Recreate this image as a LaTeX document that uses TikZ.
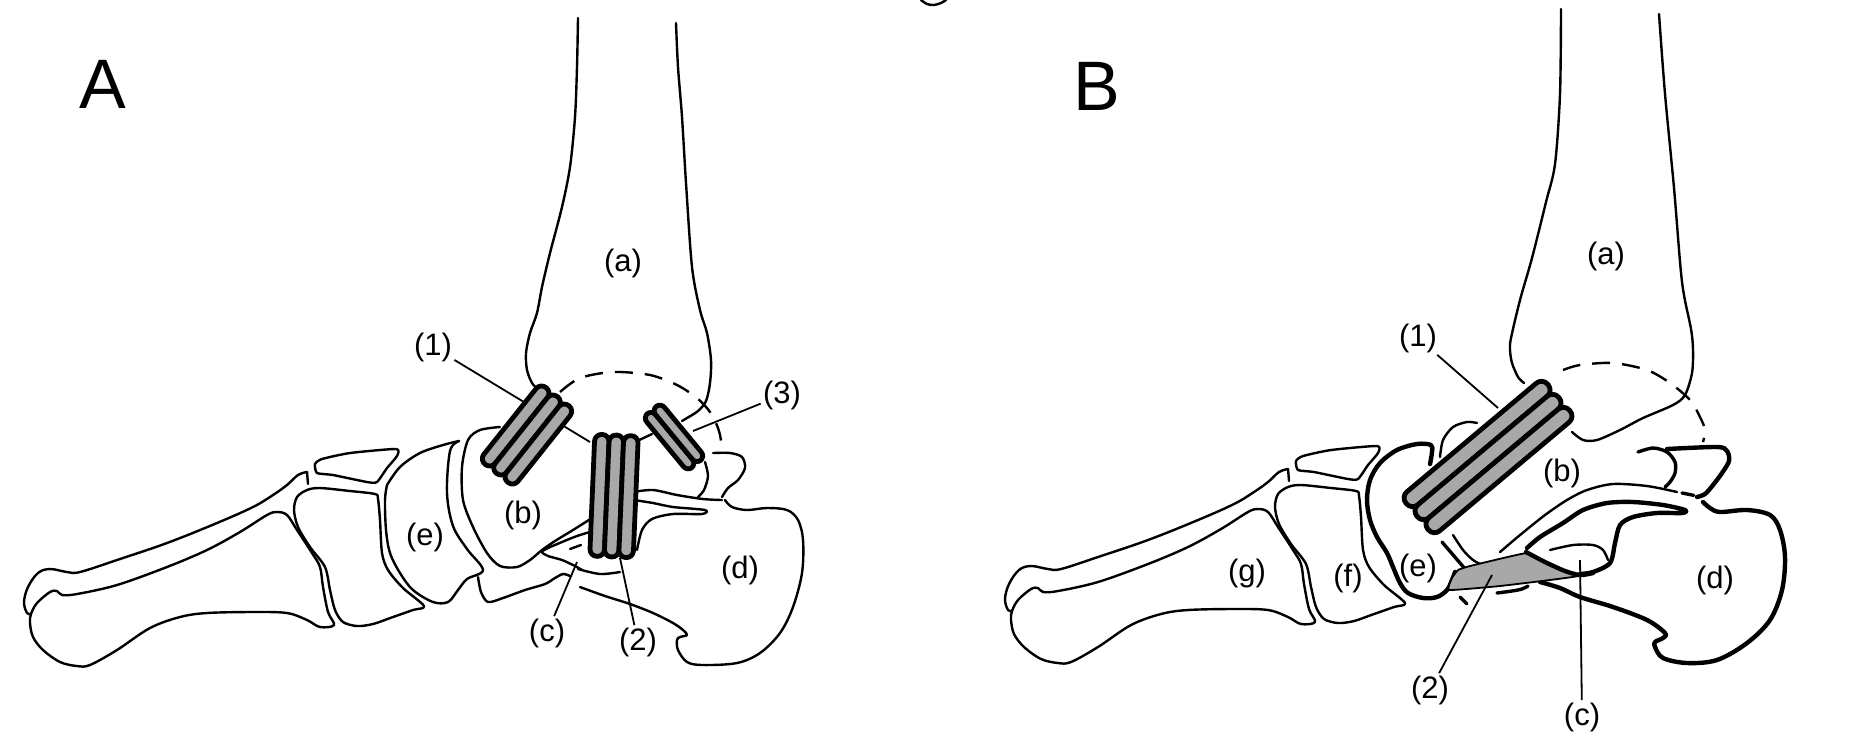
\documentclass[tikz,border=0pt]{standalone}
\usepackage{fontspec}
\setmainfont{Liberation Sans}
\definecolor{liggray}{HTML}{A8A8A8}
\tikzset{
 bone/.style={line width=1.2pt, line join=round, line cap=round},
 mbone/.style={line width=1.7pt, line join=round, line cap=round},
 bbone/.style={line width=2.2pt, line join=round, line cap=round},
 dsh/.style={line width=1.2pt, dash pattern=on 9pt off 6pt},
 lead/.style={line width=0.9pt},
 lbl/.style={font=\fontsize{15.5}{18}\selectfont, inner sep=1pt},
 big/.style={font=\fontsize{35}{40}\selectfont, inner sep=0pt},
 ligs/.style={fill=liggray, draw=black, line width=2.4pt, line join=round},
 wedgestyle/.style={fill=liggray, draw=black, line width=0.9pt, line join=round},
}
\newcommand{\ligbundle}[7]{%
 \begin{scope}[shift={(#1,#2)},rotate=#3]
  \foreach \k in {1,...,#5}{%
   \pgfmathsetmacro{\vlo}{(\k-1-(#5)/2)*(#6)}%
   \pgfmathsetmacro{\vhi}{\vlo+(#6)}%
   \draw[ligs, rounded corners=#7] (-#4/2,\vlo) rectangle (#4/2,\vhi);
  }
 \end{scope}}
\newcommand{\forefoot}{%
 \draw[bone] (308,484) -- (307,472);
 \draw[bone] plot[smooth, tension=0.6] coordinates {(307,472) (298,475) (287,485) (273,495) (253,507) (217,523) (167,543) (117,560) (80,572) (67,572) (50,569) (38,573) (28,587) (24,602) (27,613) (31,614)};
 \draw[bone] plot[smooth cycle, tension=0.55] coordinates {(31,614) (37,603) (50,592) (57,591) (62,595) (77,594) (117,585) (167,567) (207,550) (240,532) (267,515) (277,512) (287,515) (297,530) (312,553) (320,567) (323,587) (328,612) (334,625) (320,627) (307,620) (287,613) (253,612) (207,613) (180,617) (150,628) (117,650) (90,665) (77,666) (60,662) (43,650) (33,637) (30,623)};
 \draw[bone] plot[smooth cycle, tension=0.35] coordinates {(317,473) (315,464) (322,459) (350,453) (396,449) (397,456) (387,468) (377,482) (367,482) (333,475)};
 \draw[bone] plot[smooth cycle, tension=0.5] coordinates {(297,497) (307,490) (320,488) (350,491) (375,494) (378,499) (380,520) (382,553) (388,570) (403,588) (424,606) (413,610) (393,617) (373,624) (357,626) (343,622) (335,610) (330,590) (325,567) (310,547) (298,527) (294,510)};
}
\begin{document}
\begin{tikzpicture}[x=0.5pt,y=-0.5pt]
\useasboundingbox (0,0) rectangle (1856,736);
\draw[bone] plot[smooth] coordinates {(921,0) (927,4) (934,5) (941,3) (946,0)};

% ================= PANEL A =================
\node[big] (Alab) at (103,84) {A};
\draw[bone] plot[smooth] coordinates {(578,18) (577,67) (575,117) (570,167) (562,207) (550,253) (542,287) (537,313) (530,333) (526,353) (527,370) (532,383) (538,389)};
\draw[bone] plot[smooth] coordinates {(676,23) (678,67) (682,117) (686,183) (692,267) (700,310) (707,333) (711,360) (710,383) (706,401) (698,411) (687,418) (682,421)};
\draw[dsh] plot[smooth] coordinates {(560,392) (580,378) (613,372) (650,375) (677,385) (697,398) (710,412) (718,428) (721,442) (718,452)};
\forefoot
\draw[bone] plot[smooth, tension=0.55] coordinates {(387,485) (400,467) (420,453) (443,445) (459,441)};
\draw[bone] plot[smooth, tension=0.55] coordinates {(459,441) (450,451) (447,493) (453,526) (467,549) (483,570) (467,579) (458,590) (448,602) (433,602) (413,590) (400,573) (390,553) (386,530) (385,500) (387,485)};
\draw[bone] plot[smooth] coordinates {(500,427) (480,430) (468,440) (462,467) (463,500) (473,527) (487,553) (500,566) (517,567) (530,560) (542,550) (555,541) (573,530) (592,518)};
\draw[bone] plot[smooth, tension=0.5] coordinates {(593,531) (577,536) (562,542) (548,548) (542,552) (548,556) (562,560) (575,566) (582,570)};
\draw[bone] (570,549) -- (581,545);
\draw[bone] plot[smooth] coordinates {(578,569) (600,574) (620,572)};
\draw[bone] plot[smooth] coordinates {(478,577) (481,592) (488,602) (503,598) (525,590) (545,584) (555,578) (563,574) (570,576)};
\draw[bone] plot[smooth, tension=0.55] coordinates {(580,587) (605,596) (630,604) (653,613) (673,623) (683,630) (687,635) (680,637) (677,640) (678,650) (687,662) (703,665) (737,663) (760,653) (780,633) (793,607) (802,573) (803,540) (798,520) (787,510) (767,508) (747,510) (732,507) (725,500)};
\draw[bone] plot[smooth] coordinates {(713,453) (730,453) (742,457) (745,468) (738,480) (728,488) (722,497)};
\draw[bone] plot[smooth] coordinates {(705,462) (708,476) (704,490) (698,497)};
\draw[bone] plot[smooth] coordinates {(633,492) (653,490) (677,495) (703,499) (722,500)};
\draw[bone] plot[smooth, tension=0.5] coordinates {(634,500) (653,503) (673,507) (705,510) (702,514) (673,514) (652,519) (642,530) (637,550)};
\draw[bone] (635,442) -- (652,434);
\node[lbl] (Aa) at (623,263) {(a)};
\node[lbl] (Ab) at (523,515) {(b)};
\node[lbl] (Ae) at (425,537) {(e)};
\node[lbl] (Ad) at (740,570) {(d)};
\node[lbl] (Ac) at (547,633) {(c)};
\node[lbl] (A2) at (638,642) {(2)};
\node[lbl] (A1) at (433,347) {(1)};
\node[lbl] (A3) at (782,395) {(3)};
\coordinate (A1e) at (590,442);
\coordinate (A3e) at (693,431);
\coordinate (Ace) at (577,562);
\coordinate (A2e) at (620,558);
\draw[lead] (A1) -- (A1e);
\draw[lead] (A3) -- (A3e);
\draw[lead] (Ac) -- (Ace);
\draw[lead] (A2) -- (A2e);
\ligbundle{527}{435}{51.5}{98}{3}{14.5}{3.5pt}
\ligbundle{614}{496}{87.6}{122}{3}{14.5}{3.5pt}
\ligbundle{674}{437}{129.5}{70}{2}{11.5}{3pt}

% ================= PANEL B =================
\node[big] (Blab) at (1097,86) {B};
\draw[bone] plot[smooth] coordinates {(1561,9) (1560,94) (1555,164) (1546,202) (1532,258) (1520,300) (1511,338) (1510,350) (1512,363) (1518,377) (1524,383)};
\draw[bone] plot[smooth] coordinates {(1659,14) (1665,94) (1674,188) (1682,282) (1691,329) (1693,350) (1692,373) (1685,395) (1673,405) (1643,418) (1620,430) (1597,440) (1583,440) (1572,432)};
\draw[dsh] plot[smooth] coordinates {(1563,370) (1580,365) (1613,363) (1647,370) (1670,383) (1690,400) (1700,417) (1705,430) (1703,442)};
\begin{scope}[shift={(981,-3)}]
\forefoot
\end{scope}
\draw[bbone] plot[smooth, tension=0.55] coordinates {(1430,464) (1432,452) (1431,445) (1417,444) (1397,450) (1380,463) (1370,480) (1367,500) (1370,520) (1377,537) (1387,553) (1393,567) (1400,583) (1408,593) (1423,598) (1437,597) (1447,590) (1452,580) (1455,572)};
\draw[bone] plot[smooth] coordinates {(1440,457) (1443,440) (1453,427) (1467,422) (1477,423)};
\draw[mbone] (1442,542) -- (1466,570);
\draw[bone] plot[smooth] coordinates {(1453,535) (1463,550) (1473,560) (1483,565) (1492,567)};
\draw[mbone] (1460,597) -- (1467,604);
\draw[bone] plot[smooth] coordinates {(1500,552) (1520,535) (1545,515) (1567,500) (1587,490) (1613,484) (1647,486) (1677,492)};
\draw[bbone] plot[smooth, tension=0.5] coordinates {(1527,548) (1540,537) (1563,523) (1583,510) (1607,503) (1633,502) (1663,505) (1685,510) (1682,513) (1657,513) (1633,517) (1620,525) (1615,543) (1610,563) (1593,572) (1580,574)};
\draw[bone] plot[smooth] coordinates {(1550,550) (1573,545) (1593,545) (1603,550) (1608,560)};
\draw[mbone] plot[smooth] coordinates {(1638,452) (1653,448) (1667,452) (1675,462) (1675,473) (1670,482) (1665,487)};
\draw[bbone] plot[smooth, tension=0.5] coordinates {(1667,449) (1717,447) (1727,451) (1729,461) (1722,473) (1713,485) (1705,494) (1697,497)};
\draw[mbone, dash pattern=on 6pt off 3pt] (1682,493) -- (1697,496);
\draw[bbone] plot[smooth, tension=0.55] coordinates {(1540,582) (1560,588) (1580,597) (1613,607) (1647,620) (1665,633) (1663,638) (1655,642) (1655,647) (1663,658) (1687,663) (1717,660) (1747,643) (1770,620) (1782,590) (1785,557) (1780,530) (1770,515) (1747,510) (1720,512) (1710,508) (1703,502)};
\draw[wedgestyle] plot[smooth cycle, tension=0.2] coordinates {(1449,590) (1452,578) (1458,570) (1470,566) (1527,553) (1550,565) (1578,576) (1500,586)};
\draw[bbone] plot[smooth] coordinates {(1526,552) (1545,562) (1565,571) (1580,575) (1593,573)};
\draw[mbone] plot[smooth] coordinates {(1497,593) (1512,591) (1522,589) (1528,586)};
\node[lbl] (Ba) at (1606,256) {(a)};
\node[lbl] (Bb) at (1562,473) {(b)};
\node[lbl] (Be) at (1418,568) {(e)};
\node[lbl] (Bf) at (1348,578) {(f)};
\node[lbl] (Bg) at (1247,573) {(g)};
\node[lbl] (Bd) at (1715,580) {(d)};
\node[lbl] (B1) at (1418,338) {(1)};
\node[lbl] (B2) at (1430,690) {(2)};
\node[lbl] (Bc) at (1582,717) {(c)};
\coordinate (B1e) at (1498,408);
\coordinate (B2e) at (1492,575);
\coordinate (Bce) at (1580,560);
\draw[lead] (B1) -- (B1e);
\draw[lead] (B2) -- (B2e);
\draw[lead] (Bc) -- (Bce);
\ligbundle{1488}{457}{40}{185}{3}{17}{4pt}
\end{tikzpicture}
\end{document}
